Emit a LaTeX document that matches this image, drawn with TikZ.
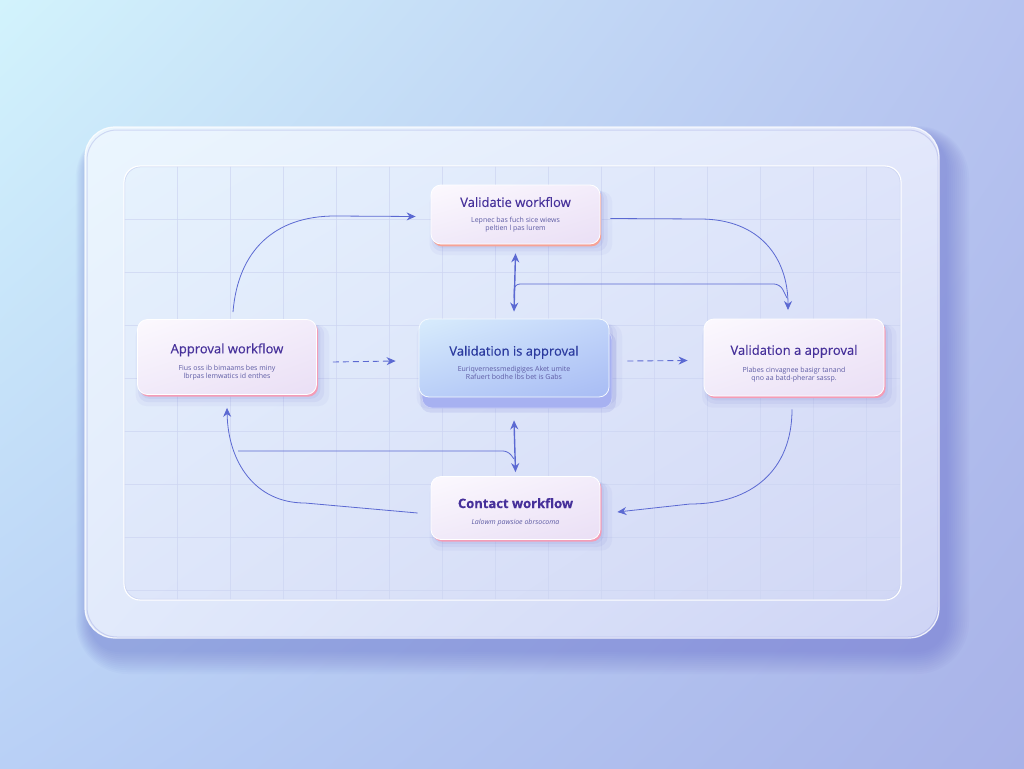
\documentclass[tikz,border=0pt]{standalone}
\usepackage{fontspec}
\setmainfont{Open Sans}
\newfontfamily\ttlfam[FakeBold=0.35]{Open Sans}
\usetikzlibrary{arrows.meta,calc,shadows,shadings}
\definecolor{bgTL}{HTML}{D2F3FC}
\definecolor{bgTR}{HTML}{B6C3F0}
\definecolor{bgBL}{HTML}{B9D0F6}
\definecolor{bgBR}{HTML}{A8B2E8}
\definecolor{pTL}{HTML}{EBF6FE}
\definecolor{pTR}{HTML}{E3E8FB}
\definecolor{pBL}{HTML}{E2EAFB}
\definecolor{pBR}{HTML}{CED4F5}
\definecolor{iTL}{HTML}{E6F2FD}
\definecolor{iTR}{HTML}{DEE4FA}
\definecolor{iBL}{HTML}{DEE6FA}
\definecolor{iBR}{HTML}{D1D7F5}
\definecolor{gridc}{HTML}{CDD5F2}
\definecolor{shadowc}{HTML}{5A60C8}
\definecolor{arrc}{HTML}{5B69D2}
\definecolor{titlec}{HTML}{46309A}
\definecolor{ctitlec}{HTML}{2B3A9E}
\definecolor{subc}{HTML}{5E5CA4}
\definecolor{boxA}{HTML}{FCF9FE}
\definecolor{boxB}{HTML}{F3ECFA}
\definecolor{boxC}{HTML}{F1EAF9}
\definecolor{boxD}{HTML}{EADFF5}
\definecolor{rimc}{HTML}{F49CB6}
\definecolor{rimo}{HTML}{F6A296}
\definecolor{cenA}{HTML}{D8ECFC}
\definecolor{cenB}{HTML}{C2D5FA}
\definecolor{cenC}{HTML}{BACFF8}
\definecolor{cenD}{HTML}{A8BCF4}
\definecolor{layerc}{HTML}{A7B1F1}
\tikzset{
  card/.style={rounded corners=10pt, inner sep=0pt, align=center,
    font=\fontsize{7}{8.2}\selectfont\color{subc},
    shade, upper left=boxA, upper right=boxB, lower left=boxC, lower right=boxD,
    draw=white, line width=0.8pt,
    general shadow={fill=shadowc, opacity=0.05, shadow xshift=5pt, shadow yshift=-8pt, shadow scale=1.08},
    general shadow={fill=shadowc, opacity=0.07, shadow xshift=4pt, shadow yshift=-6pt, shadow scale=1.04},
    general shadow={fill=shadowc, opacity=0.08, shadow xshift=3pt, shadow yshift=-4pt, shadow scale=1.01}},
  rimpink/.style={general shadow={fill=rimc, shadow xshift=1.6pt, shadow yshift=-2.2pt}},
  rimorange/.style={general shadow={fill=rimo, shadow xshift=1.2pt, shadow yshift=-2.4pt}},
  conn/.style={draw=arrc, line width=0.8pt},
  thick conn/.style={draw=arrc, line width=1.4pt},
  tip/.style={-{Stealth[length=9pt,width=8pt]}},
  dtip/.style={{Stealth[length=9pt,width=8pt]}-{Stealth[length=9pt,width=8pt]}},
  dashc/.style={draw=arrc, line width=0.9pt, dash pattern=on 6pt off 4pt}
}
\newcommand{\ttlf}{\ttlfam\fontsize{13}{14}\selectfont\color{titlec}}
\newcommand{\lift}[1]{\rule{0pt}{#1}}
\begin{document}
\begin{tikzpicture}[x=1pt,y=-1pt]
\useasboundingbox (0,0) rectangle (1024,768);
% background
\shade[upper left=bgTL, upper right=bgTR, lower left=bgBL, lower right=bgBR] (0,0) rectangle (1024,768);
% panel shadow
\foreach \i in {0,2,...,22}
  \fill[shadowc, opacity=0.035, rounded corners={30+\i}] ({85+4-\i*0.6},{127+10-\i*0.5}) rectangle ({939+8+\i},{638+14+\i});
% outer panel
\shade[rounded corners=30, upper left=pTL, upper right=pTR, lower left=pBL, lower right=pBR] (85,127) rectangle (939,638);
\draw[white, opacity=0.8, line width=1.2pt, rounded corners=30] (85,127) rectangle (939,638);
\draw[shadowc, opacity=0.2, line width=1pt, rounded corners=30] (87,130) rectangle (938,637);
% inner panel
\shade[rounded corners=16, upper left=iTL, upper right=iTR, lower left=iBL, lower right=iBR] (124,166) rectangle (901,600);
\begin{scope}
  \clip[rounded corners=16] (124,166) rectangle (901,600);
  \foreach \x in {177,230,...,900} \draw[gridc, opacity=0.7, line width=0.6pt] (\x,166) -- (\x,600);
  \foreach \y in {219,272,...,600} \draw[gridc, opacity=0.7, line width=0.6pt] (124,\y) -- (901,\y);
\end{scope}
\draw[white, line width=1.1pt, rounded corners=16] (124,166) rectangle (901,600);
\draw[gridc, line width=0.5pt, rounded corners=16] (124.9,166.9) rectangle (900.1,599.1);

% nodes
\node[card, rimorange, minimum width=169pt, minimum height=59pt] (top) at (515.5,214.5)
  {{\ttlf Validatie workflow}\\[7pt]Lepnec bas fuch sice wiews\\peltien l pas lurem};
\node[card, rimpink, minimum width=179pt, minimum height=75pt] (app) at (227,357)
  {{\ttlf\lift{20pt}Approval workflow}\\[8pt]Fius oss ib bimaams bes miny\\lbrpas lemwatics id enthes};
\node[card, rimpink, minimum width=180pt, minimum height=77pt] (val) at (794,357.5)
  {{\ttlf\lift{22pt}Validation a approval}\\[8pt]Plabes cinvagnee basigr tanand\\qno aa batd-pherar sassp.};
\node[card, rimpink, minimum width=169pt, minimum height=63pt] (con) at (515.5,508)
  {{\ttlf\bfseries\lift{18pt}Contact workflow}\\[8pt]{\itshape Lalowm pawsioe obrsocoma}};
\node[card, upper left=cenA, upper right=cenB, lower left=cenC, lower right=cenD,
      draw=white!70!cenA, minimum width=190pt, minimum height=78pt,
      general shadow={fill=shadowc, opacity=0.12, shadow xshift=4pt, shadow yshift=-14pt, shadow scale=1.03},
      general shadow={fill=layerc, draw=white!40!layerc, line width=0.8pt, shadow xshift=3pt, shadow yshift=-11pt}] (cen) at (514,358)
  {{\ttlfam\fontsize{13}{14}\selectfont\color{ctitlec}\lift{19pt}Validation is approval}\\[6pt]Euriqvernessmedigiges Aket umite\\Rafuert bodhe lbs bet is Gabs};

% connectors
\coordinate (a1) at (233,312);
\draw[conn, tip] (a1) .. controls (238,250) and (275,216) .. (335,216) -- ([xshift=-15pt,yshift=-2pt]top.west);
\coordinate (b1) at (788,310);
\draw[conn, tip] ([xshift=10pt,yshift=-4pt]top.east) -- (700,219) .. controls (760,219) and (788,258) .. (b1);
\draw[conn, rounded corners=6pt] (514,298) -- (514,284) -- (780,284) -- (787,298);
\draw[thick conn, dtip] ([yshift=-9pt]top.south) -- ([yshift=7pt]cen.north);
\draw[dashc, tip] ([xshift=16pt,yshift=-5pt]app.east) -- ([xshift=-23pt,yshift=-3pt]cen.west);
\draw[dashc, tip] ([xshift=18pt,yshift=-3pt]cen.east) -- ([xshift=-16pt,yshift=-3pt]val.west);
\draw[thick conn, dtip] ([yshift=-23pt]cen.south) -- ([yshift=4pt]con.north);
\coordinate (c1) at (238,451);
\draw[conn, rounded corners=5pt] (c1) -- (508,451) -- (514,459);
\draw[conn, tip] ([xshift=-13pt,yshift=-5pt]con.west) -- (305,503) .. controls (255,503) and (228,462) .. ([yshift=-13pt]app.south);
\draw[conn, tip] ([xshift=-2pt,yshift=-13pt]val.south) .. controls (792,470) and (752,504) .. (690,504) -- ([xshift=17pt,yshift=-4pt]con.east);
\end{tikzpicture}
\end{document}
